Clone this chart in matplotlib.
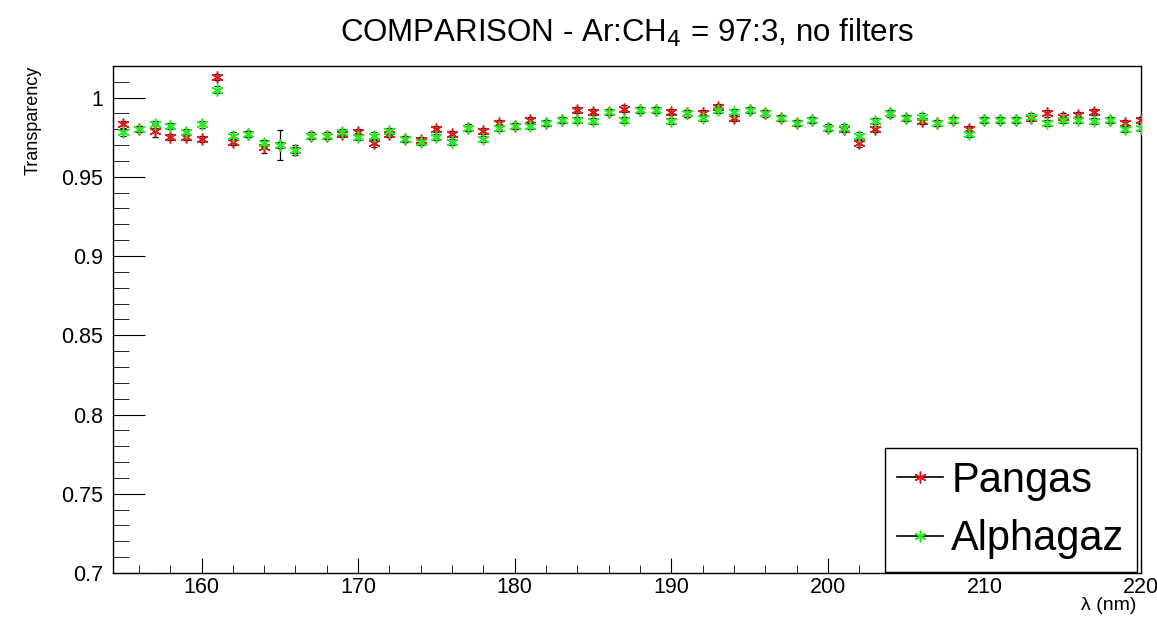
import matplotlib.pyplot as plt
import numpy as np
from matplotlib.lines import Line2D
from matplotlib.ticker import MultipleLocator

plt.rcParams['font.family'] = ['Liberation Sans', 'DejaVu Sans']

# wavelength (nm)
wavelength = list(range(155, 221))

pangas = [0.983, 0.980, 0.979, 0.975, 0.975, 0.974, 1.013, 0.972, 0.977, 0.969,
          0.970, 0.967, 0.976, 0.976, 0.977, 0.978, 0.971, 0.977, 0.974, 0.973,
          0.980, 0.977, 0.981, 0.979, 0.984, 0.982, 0.986, 0.984, 0.986, 0.992,
          0.991, 0.991, 0.993, 0.992, 0.992, 0.991, 0.990, 0.990, 0.994, 0.987,
          0.992, 0.990, 0.987, 0.984, 0.986, 0.981, 0.980, 0.971, 0.980, 0.990,
          0.987, 0.985, 0.984, 0.986, 0.980, 0.986, 0.986, 0.986, 0.987, 0.990,
          0.988, 0.989, 0.991, 0.986, 0.984, 0.986]

alphagaz = [0.978, 0.980, 0.983, 0.982, 0.978, 0.983, 1.005, 0.976, 0.977, 0.971,
            0.970, 0.967, 0.976, 0.976, 0.978, 0.975, 0.976, 0.979, 0.974, 0.972,
            0.975, 0.972, 0.981, 0.974, 0.981, 0.982, 0.982, 0.984, 0.986, 0.986,
            0.985, 0.991, 0.986, 0.992, 0.992, 0.985, 0.990, 0.987, 0.992, 0.991,
            0.992, 0.990, 0.987, 0.984, 0.986, 0.981, 0.981, 0.976, 0.985, 0.990,
            0.987, 0.988, 0.984, 0.986, 0.977, 0.986, 0.986, 0.986, 0.988, 0.984,
            0.986, 0.986, 0.985, 0.986, 0.980, 0.981]

pangas_err = [0.002, 0.002, 0.004, 0.002, 0.002, 0.002, 0.002, 0.002, 0.002, 0.004,
              0.0095, 0.003, 0.002, 0.002, 0.002, 0.002, 0.002, 0.002, 0.002, 0.002,
              0.002, 0.002, 0.002, 0.002, 0.002, 0.002, 0.002, 0.002, 0.002, 0.002,
              0.002, 0.002, 0.002, 0.002, 0.002, 0.002, 0.002, 0.002, 0.002, 0.002,
              0.002, 0.002, 0.002, 0.002, 0.002, 0.002, 0.002, 0.002, 0.002, 0.002,
              0.002, 0.002, 0.002, 0.002, 0.002, 0.002, 0.002, 0.002, 0.002, 0.002,
              0.002, 0.002, 0.002, 0.002, 0.002, 0.002]
alphagaz_err = [0.002] * len(wavelength)

fig = plt.figure(figsize=(11.57, 6.17), dpi=100)
ax = fig.add_axes([0.0977, 0.0713, 0.8885, 0.822])

star = (6, 2, 0)
red = '#e01818'
green = '#22ee22'
ax.errorbar(wavelength, pangas, yerr=pangas_err, fmt='none', ecolor='black',
            elinewidth=0.9, capsize=2.5, capthick=0.9, zorder=2)
ax.errorbar(wavelength, alphagaz, yerr=alphagaz_err, fmt='none', ecolor='black',
            elinewidth=0.9, capsize=2.5, capthick=0.9, zorder=2)
ax.plot(wavelength, pangas, linestyle='none', marker=star, markersize=8.5,
        markeredgewidth=1.1, color=red, zorder=3)
ax.plot(wavelength, alphagaz, linestyle='none', marker=star, markersize=8.5,
        markeredgewidth=1.1, color=green, zorder=3)

ax.set_xlim(154.35, 220)
ax.set_ylim(0.7, 1.02)
ax.xaxis.set_major_locator(MultipleLocator(10))
ax.xaxis.set_minor_locator(MultipleLocator(2))
ax.yaxis.set_minor_locator(MultipleLocator(0.01))
ax.set_yticks([0.7, 0.75, 0.8, 0.85, 0.9, 0.95, 1.0])
ax.set_yticklabels(['0.7', '0.75', '0.8', '0.85', '0.9', '0.95', '1'])
ax.tick_params(axis='both', which='both', direction='in', labelsize=15.5, top=False, right=False)
ax.tick_params(axis='y', which='major', length=23, pad=7)
ax.tick_params(axis='y', which='minor', length=11.5)
ax.tick_params(axis='x', which='major', length=11, pad=3)
ax.tick_params(axis='x', which='minor', length=5.5)
for s in ax.spines.values():
    s.set_linewidth(1.0)

ax.set_title('COMPARISON - Ar:CH$_4$ = 97:3, no filters', fontsize=22.5, pad=17)
ax.text(-0.078, 1.0, 'Transparency', transform=ax.transAxes, rotation=90,
        ha='center', va='top', fontsize=13)
ax.text(0.995, -0.048, 'λ (nm)', transform=ax.transAxes, ha='right', va='top', fontsize=14)

handles = [Line2D([0], [0], color='black', lw=1.2, marker=star, markersize=8.5,
                  markeredgewidth=1.1, markeredgecolor=red),
           Line2D([0], [0], color='black', lw=1.2, marker=star, markersize=8.5,
                  markeredgewidth=1.1, markeredgecolor=green)]
leg = ax.legend(handles, ['Pangas', 'Alphagaz'], loc='lower right',
                bbox_to_anchor=(0.996, 0.002), borderaxespad=0, fontsize=30,
                frameon=True, fancybox=False, edgecolor='black', framealpha=1,
                handlelength=1.1, handletextpad=0.2, labelspacing=0.45,
                borderpad=0.3)
leg.get_frame().set_linewidth(1.0)

fig.savefig('out.png', dpi=100)
